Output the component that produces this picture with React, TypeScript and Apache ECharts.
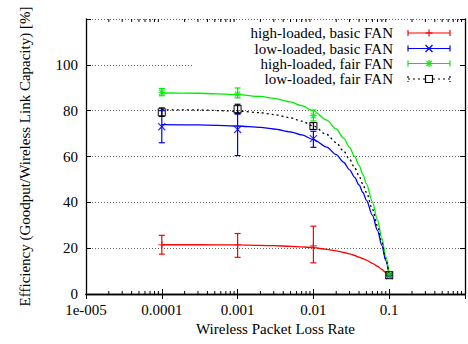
import React, { useEffect, useRef } from 'react';
import * as echarts from 'echarts';

const FONT = 'Liberation Serif';
const FS = 15;

// Loss rates at which the measurements were taken
const lossRates = [0.0001, 0.001, 0.01, 0.1];

// Axis tick labels
const xTickLabels = ['1e-005', '0.0001', '0.001', '0.01', '0.1', ''];
const yTickLabels = ['0', '20', '40', '60', '80', '100', ''];

const seriesNames = [
  'high-loaded, basic FAN',
  'low-loaded, basic FAN',
  'high-loaded, fair FAN',
  'low-loaded, fair FAN',
];
const seriesColors = ['#ff0000', '#0000ff', '#00ee00', '#000000'];

// Measured points (mean, lower and upper end of error bar)
const highBasicMean = [21.5, 21.5, 21.0, 8.3];
const highBasicLow = [17.4, 16.0, 13.6, 8.1];
const highBasicHigh = [25.6, 26.4, 29.6, 8.5];

const lowBasicMean = [73.0, 71.8, 67.8, 8.0];
const lowBasicLow = [66.0, 60.4, 64.0, 7.8];
const lowBasicHigh = [80.0, 78.5, 71.0, 8.2];

const highFairMean = [88.0, 87.3, 77.8, 8.5];
const highFairLow = [86.5, 85.6, 75.5, 8.3];
const highFairHigh = [89.7, 89.9, 80.3, 8.7];

const lowFairMean = [79.3, 80.7, 73.3, 8.2];
const lowFairLow = [77.5, 78.8, 71.8, 8.0];
const lowFairHigh = [81.2, 82.8, 74.8, 8.4];

// Fitted curves
const curveX = [0.0001, 0.0003, 0.001, 0.002, 0.003, 0.005, 0.007, 0.01, 0.015, 0.02, 0.025, 0.03, 0.035, 0.04, 0.045, 0.05, 0.06, 0.07, 0.08, 0.09, 0.1];
const highBasicCurve = [21.5, 21.5, 21.4, 21.2, 21.1, 20.8, 20.6, 20.2, 19.5, 18.8, 18.1, 17.5, 16.8, 16.1, 15.4, 14.8, 13.4, 12.1, 10.7, 9.4, 8.0];
const lowBasicCurve = [73.9, 73.8, 73.3, 72.7, 72.0, 70.7, 69.4, 67.4, 64.1, 60.8, 57.5, 54.2, 50.9, 47.6, 44.3, 41.0, 34.4, 27.8, 21.2, 14.6, 8.0];
const highFairCurve = [87.7, 87.6, 87.0, 86.2, 85.4, 83.8, 82.2, 79.9, 75.9, 72.0, 68.0, 64.0, 60.0, 56.1, 52.1, 48.2, 40.2, 32.3, 24.4, 16.4, 8.5];
const lowFairCurve = [80.4, 80.3, 79.8, 79.1, 78.3, 76.9, 75.4, 73.3, 69.6, 66.0, 62.4, 58.8, 55.1, 51.5, 47.9, 44.3, 37.0, 29.8, 22.5, 15.3, 8.0];

// Minor tick positions on the log axis
const minorDecades = [1e-5, 1e-4, 1e-3, 1e-2, 1e-1];
const minorMultipliers = [2, 3, 4, 5, 6, 7, 8, 9];

const SYMBOLS = [
  'path://M0,4L8,4M4,0L4,8',
  'path://M0,0L8,8M8,0L0,8',
  'path://M0,4L8,4M4,0L4,8M1,1L7,7M7,1L1,7',
  'path://M0,0L8,0L8,8L0,8Z',
];

const means = [highBasicMean, lowBasicMean, highFairMean, lowFairMean];
const lows = [highBasicLow, lowBasicLow, highFairLow, lowFairLow];
const highs = [highBasicHigh, lowBasicHigh, highFairHigh, lowFairHigh];
const curves = [highBasicCurve, lowBasicCurve, highFairCurve, lowFairCurve];

function buildOption() {
  const series: any[] = [];
  for (let s = 0; s < 4; s++) {
    const color = seriesColors[s];
    series.push({
      type: 'line',
      name: seriesNames[s] + ' fit',
      data: curveX.map((x, i) => [x, curves[s][i]]),
      showSymbol: false,
      smooth: 0.3,
      smoothMonotone: 'x',
      lineStyle: { color, width: 1.3, type: s === 3 ? [2, 3] : 'solid' },
      z: 2,
      silent: true,
    });
    series.push({
      type: 'custom',
      name: seriesNames[s] + ' err',
      data: lossRates.map((x, i) => [x, lows[s][i], highs[s][i]]),
      encode: { x: 0, y: [1, 2] },
      renderItem: (_p: any, api: any) => {
        const x = api.value(0);
        const a = api.coord([x, api.value(1)]);
        const b = api.coord([x, api.value(2)]);
        const w = 3;
        const style = { stroke: color, lineWidth: 1.2 };
        return {
          type: 'group',
          children: [
            { type: 'line', shape: { x1: a[0], y1: a[1], x2: b[0], y2: b[1] }, style },
            { type: 'line', shape: { x1: a[0] - w, y1: a[1], x2: a[0] + w, y2: a[1] }, style },
            { type: 'line', shape: { x1: b[0] - w, y1: b[1], x2: b[0] + w, y2: b[1] }, style },
          ],
        };
      },
      z: 3,
      silent: true,
    });
    series.push({
      type: 'scatter',
      name: seriesNames[s],
      data: lossRates.map((x, i) => [x, means[s][i]]),
      symbol: SYMBOLS[s],
      symbolSize: 7,
      itemStyle: { color: 'rgba(0,0,0,0)', borderColor: color, borderWidth: 1.2 },
      z: 4,
      silent: true,
    });
  }

  const minorTicks: number[][] = [];
  minorDecades.forEach((d) => minorMultipliers.forEach((m) => minorTicks.push([d * m, 0])));
  series.push({
    type: 'custom',
    name: 'minor ticks',
    data: minorTicks,
    encode: { x: 0, y: 1 },
    renderItem: (_p: any, api: any) => {
      const v = api.value(0);
      const b = api.coord([v, 0]);
      const t = api.coord([v, 120]);
      const style = { stroke: '#000', lineWidth: 1 };
      return {
        type: 'group',
        children: [
          { type: 'line', shape: { x1: b[0], y1: b[1], x2: b[0], y2: b[1] - 3 }, style },
          { type: 'line', shape: { x1: t[0], y1: t[1], x2: t[0], y2: t[1] + 3 }, style },
        ],
      };
    },
    clip: false,
    silent: true,
    z: 6,
  });

  // Legend drawn gnuplot style
  const rowsY = [33, 48.5, 63.5, 79];
  const textRight = 393;
  const sx1 = 408;
  const sx2 = 450;
  const mx = 429;
  const legendEls: any[] = [
    { type: 'rect', shape: { x: 192, y: 22, width: 271, height: 66 }, style: { fill: '#fff' }, z: 1, silent: true },
  ];
  rowsY.forEach((y, s) => {
    const color = seriesColors[s];
    const st: any = { stroke: color, lineWidth: 1.2 };
    if (s === 3) st.lineDash = [2, 3];
    legendEls.push({
      type: 'text',
      x: textRight,
      y,
      style: { text: seriesNames[s], fontFamily: FONT, fontSize: FS, fill: '#000', align: 'right', verticalAlign: 'middle' },
      z: 7,
    });
    legendEls.push({ type: 'line', shape: { x1: sx1, y1: y, x2: sx2, y2: y }, style: st, z: 7 });
    legendEls.push({ type: 'line', shape: { x1: sx1, y1: y - 3, x2: sx1, y2: y + 3 }, style: st, z: 7 });
    legendEls.push({ type: 'line', shape: { x1: sx2, y1: y - 3, x2: sx2, y2: y + 3 }, style: st, z: 7 });
    const ms = { stroke: color, lineWidth: 1.2 };
    const r = 3.5;
    if (s === 0 || s === 2) {
      legendEls.push({ type: 'line', shape: { x1: mx - r, y1: y, x2: mx + r, y2: y }, style: ms, z: 8 });
      legendEls.push({ type: 'line', shape: { x1: mx, y1: y - r, x2: mx, y2: y + r }, style: ms, z: 8 });
    }
    if (s === 1 || s === 2) {
      const q = s === 1 ? 3.5 : 2.6;
      legendEls.push({ type: 'line', shape: { x1: mx - q, y1: y - q, x2: mx + q, y2: y + q }, style: ms, z: 8 });
      legendEls.push({ type: 'line', shape: { x1: mx - q, y1: y + q, x2: mx + q, y2: y - q }, style: ms, z: 8 });
    }
    if (s === 3) {
      legendEls.push({
        type: 'rect',
        shape: { x: mx - 3.5, y: y - 3.5, width: 7, height: 7 },
        style: { fill: '#fff', stroke: color, lineWidth: 1.2 },
        z: 8,
      });
    }
  });

  const xLabel = (v: number) => {
    const k = Math.round(Math.log10(v)) + 5;
    return xTickLabels[k] ?? '';
  };
  const yLabel = (v: number) => yTickLabels[Math.round(v / 20)] ?? '';

  return {
    animation: false,
    backgroundColor: '#fff',
    textStyle: { fontFamily: FONT },
    grid: { left: 86, right: 2, top: 19, bottom: 50, containLabel: false },
    xAxis: [
      {
        type: 'log',
        logBase: 10,
        min: 1e-5,
        max: 1,
        position: 'bottom',
        name: 'Wireless Packet Loss Rate',
        nameLocation: 'middle',
        nameGap: 27,
        nameTextStyle: { fontFamily: FONT, fontSize: FS, color: '#000' },
        axisLine: { show: true, lineStyle: { color: '#000', width: 1.3 } },
        axisTick: { show: true, inside: true, length: 5, lineStyle: { color: '#000' } },
        axisLabel: { formatter: xLabel, fontFamily: FONT, fontSize: FS, lineHeight: 15, color: '#000', margin: 8, showMaxLabel: true },
        splitLine: { show: false },
        z: 5,
      },
      {
        type: 'log',
        logBase: 10,
        min: 1e-5,
        max: 1,
        position: 'top',
        axisLine: { show: true, lineStyle: { color: '#000', width: 1.3 } },
        axisTick: { show: true, inside: true, length: 5, lineStyle: { color: '#000' } },
        axisLabel: { show: false },
        splitLine: { show: false },
        z: 5,
      },
    ],
    yAxis: [
      {
        type: 'value',
        min: 0,
        max: 120,
        interval: 20,
        position: 'left',
        name: 'Efficiency (Goodput/Wireless Link Capacity) [%]',
        nameLocation: 'middle',
        nameGap: 54,
        nameTextStyle: { fontFamily: FONT, fontSize: FS, color: '#000' },
        axisLine: { show: true, lineStyle: { color: '#000', width: 1.3 } },
        axisTick: { show: true, inside: true, length: 5, lineStyle: { color: '#000' } },
        axisLabel: { formatter: yLabel, fontFamily: FONT, fontSize: FS, lineHeight: 14, color: '#000', margin: 8 },
        splitLine: { show: true, lineStyle: { color: '#666', width: 1, type: [1, 2] } },
        z: 0,
      },
      {
        type: 'value',
        min: 0,
        max: 120,
        interval: 20,
        position: 'right',
        axisLine: { show: true, lineStyle: { color: '#000', width: 1.3 } },
        axisTick: { show: true, inside: true, length: 5, lineStyle: { color: '#000' } },
        axisLabel: { show: false },
        splitLine: { show: false },
        z: 5,
      },
    ],
    graphic: legendEls,
    series,
  };
}

export default function App() {
  const ref = useRef<HTMLDivElement>(null);
  useEffect(() => {
    const chart = echarts.init(ref.current!, null, { renderer: 'svg' });
    chart.setOption(buildOption() as any);
    return () => chart.dispose();
  }, []);
  return <div ref={ref} style={{ position: 'absolute', left: 0, top: 0, width: 468, height: 344 }} />;
}
